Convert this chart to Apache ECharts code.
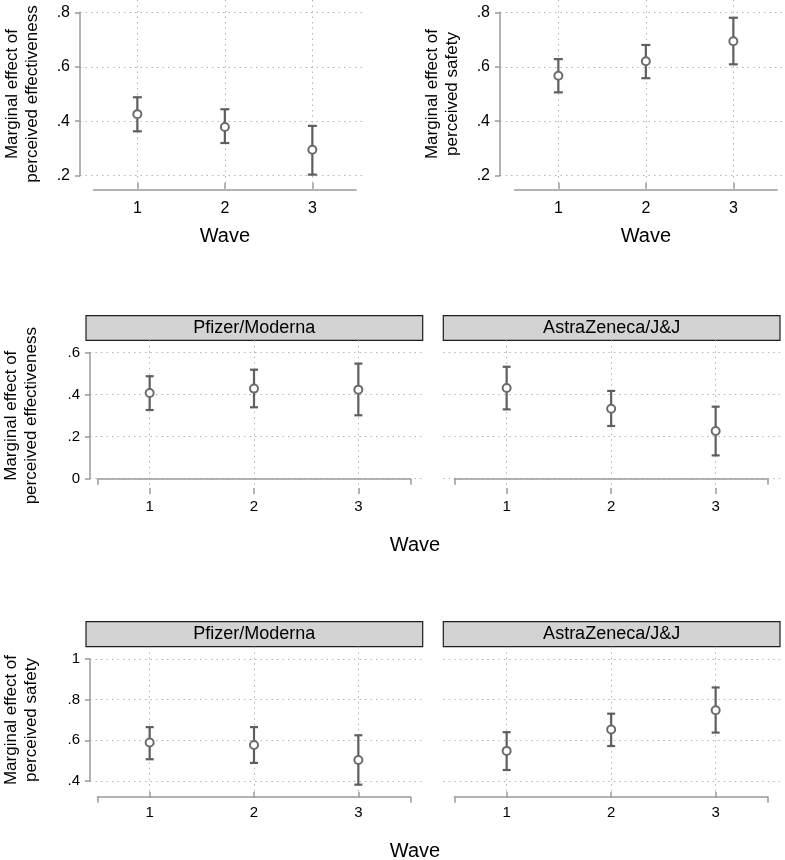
<!DOCTYPE html>
<html><head><meta charset="utf-8">
<script src="https://cdn.jsdelivr.net/npm/echarts@6/dist/echarts.min.js"></script>
<style>html,body{margin:0;padding:0;background:#fff}#c{width:785px;height:860px}</style>
</head><body><div id="c"></div>
<script>
// ---------- data ----------
const waves = [1, 2, 3];
// Top row: overall marginal effects
const effEst = [0.426, 0.379, 0.295];
const effLo  = [0.363, 0.320, 0.204];
const effHi  = [0.488, 0.444, 0.383];
const safEst = [0.567, 0.620, 0.694];
const safLo  = [0.506, 0.558, 0.609];
const safHi  = [0.628, 0.680, 0.780];
// Middle row: effectiveness by vaccine
const effPfEst = [0.408, 0.429, 0.424];
const effPfLo  = [0.327, 0.340, 0.302];
const effPfHi  = [0.488, 0.519, 0.548];
const effAzEst = [0.432, 0.333, 0.227];
const effAzLo  = [0.330, 0.251, 0.111];
const effAzHi  = [0.533, 0.418, 0.343];
// Bottom row: safety by vaccine
const safPfEst = [0.589, 0.577, 0.503];
const safPfLo  = [0.507, 0.489, 0.382];
const safPfHi  = [0.665, 0.665, 0.625];
const safAzEst = [0.548, 0.653, 0.748];
const safAzLo  = [0.454, 0.572, 0.638];
const safAzHi  = [0.640, 0.731, 0.860];
// tick labels
const ticksTop = [0.2, 0.4, 0.6, 0.8];
const ticksMid = [0, 0.2, 0.4, 0.6];
const ticksBot = [0.4, 0.6, 0.8, 1];
const vaccines = ['Pfizer/Moderna', 'AstraZeneca/J&J'];
const xTitle = 'Wave';
const yTitleEff = 'Marginal effect of\nperceived effectiveness';
const yTitleSaf = 'Marginal effect of\nperceived safety';

// ---------- style / layout ----------
const FF = '"Liberation Sans", Arial, Helvetica, sans-serif';
const AX = '#9a9a9a';
const GRID = '#b4b4b4';
const BAR = '#5e5e5e';
const MK = '#6c6c6c';
const DOT = [1.5, 4];

const panels = [
  {est: effEst, lo: effLo, hi: effHi, ticks: ticksTop, yTitle: yTitleEff, showY: true,
   plotL: 80, plotR: 365, plotT: 0, plotB: 182.7, yT: 12.3, yB: 175.7, xL: 93.6, xR: 356.1, axisY: 189.3,
   fs: 16, titleFs: 17, nameGap: 38, wave: true, endTicks: false, cap: 9, lm: 11},
  {est: safEst, lo: safLo, hi: safHi, ticks: ticksTop, yTitle: yTitleSaf, showY: true,
   plotL: 500, plotR: 790, plotT: 0, plotB: 182.7, yT: 12.3, yB: 175.7, xL: 514.6, xR: 777.1, axisY: 189.3,
   fs: 16, titleFs: 17, nameGap: 38, wave: true, endTicks: false, cap: 9, lm: 11},
  {est: effPfEst, lo: effPfLo, hi: effPfHi, ticks: ticksMid, yTitle: yTitleEff, showY: true, strip: vaccines[0],
   plotL: 86, plotR: 422.7, plotT: 340.3, plotB: 488, yT: 352.7, yB: 478.7, xL: 97.5, xR: 410.5, axisY: 490.7,
   fs: 15, titleFs: 17, nameGap: 49, wave: false, endTicks: true, cap: 8, lm: 9, stripT: 315.7},
  {est: effAzEst, lo: effAzLo, hi: effAzHi, ticks: ticksMid, yTitle: '', showY: false, strip: vaccines[1],
   plotL: 443.3, plotR: 780, plotT: 340.3, plotB: 488, yT: 352.7, yB: 478.7, xL: 454.4, xR: 767.9, axisY: 490.7,
   fs: 15, titleFs: 17, nameGap: 49, wave: false, endTicks: true, cap: 8, lm: 9, stripT: 315.7},
  {est: safPfEst, lo: safPfLo, hi: safPfHi, ticks: ticksBot, yTitle: yTitleSaf, showY: true, strip: vaccines[0],
   plotL: 86, plotR: 422.7, plotT: 646.7, plotB: 791.7, yT: 659, yB: 781, xL: 97.5, xR: 410.5, axisY: 796.7,
   fs: 15, titleFs: 17, nameGap: 49, wave: false, endTicks: true, cap: 8, lm: 9, stripT: 621.7},
  {est: safAzEst, lo: safAzLo, hi: safAzHi, ticks: ticksBot, yTitle: '', showY: false, strip: vaccines[1],
   plotL: 443.3, plotR: 780, plotT: 646.7, plotB: 791.7, yT: 659, yB: 781, xL: 454.4, xR: 767.9, axisY: 796.7,
   fs: 15, titleFs: 17, nameGap: 49, wave: false, endTicks: true, cap: 8, lm: 9, stripT: 621.7}
];
const sharedWave = [{x: 415, y: 545.7}, {x: 415, y: 851}];

function fmt(v) {
  const s = (+Number(v).toFixed(4)).toString();
  return s.replace(/^0\./, '.').replace(/^-0\./, '-.');
}

const grid = [], xAxis = [], yAxis = [], series = [], graphic = [];
const lineSt = {color: AX, width: 1.5};
const wMin = waves[0], wMax = waves[waves.length - 1];
const xMin = wMin - 0.5, xMax = wMax + 0.5;

panels.forEach(p => {
  const tMin = p.ticks[0], tMax = p.ticks[p.ticks.length - 1];
  const tInt = +(p.ticks[1] - p.ticks[0]).toFixed(6);
  const unit = (p.xR - p.xL) / (xMax - xMin);
  // grid Y: y axis + horizontal grid lines
  const gY = grid.length;
  grid.push({left: p.plotL, top: p.yT, width: p.plotR - p.plotL, height: p.yB - p.yT});
  xAxis.push({gridIndex: gY, type: 'value', min: 0, max: 1, show: false});
  yAxis.push({gridIndex: gY, type: 'value', min: tMin, max: tMax, interval: tInt,
    axisLine: {show: p.showY, lineStyle: lineSt},
    axisTick: {show: p.showY, length: 5, lineStyle: lineSt},
    axisLabel: {show: p.showY, formatter: fmt, fontSize: p.fs, color: '#000', margin: 10, fontFamily: FF},
    splitLine: {show: true, lineStyle: {color: GRID, type: DOT, width: 1}},
    name: p.yTitle, nameLocation: 'middle', nameRotate: 90, nameGap: p.nameGap,
    nameTextStyle: {fontSize: p.titleFs, lineHeight: 20, color: '#000', fontFamily: FF}});
  // grid T: wave ticks, labels and vertical grid lines (spans first..last wave)
  const gT = grid.length;
  grid.push({left: p.xL + unit * (wMin - xMin), top: p.plotT, width: unit * (wMax - wMin), height: p.plotB - p.plotT});
  xAxis.push({gridIndex: gT, type: 'value', position: 'bottom', min: wMin, max: wMax, interval: 1,
    offset: p.axisY - p.plotB,
    axisLine: {show: false},
    axisTick: {show: true, length: 6, lineStyle: lineSt},
    axisLabel: {fontSize: p.fs, color: '#000', margin: p.lm, fontFamily: FF},
    splitLine: {show: true, lineStyle: {color: GRID, type: DOT, width: 1}},
    name: p.wave ? xTitle : '', nameLocation: 'middle', nameGap: 37,
    nameTextStyle: {fontSize: 20, lineHeight: 20, color: '#000', fontFamily: FF}});
  yAxis.push({gridIndex: gT, type: 'value', min: 0, max: 1, show: false});
  // grid D: data + x axis line (+ end caps)
  const gD = grid.length;
  grid.push({left: p.xL, top: p.yT, width: p.xR - p.xL, height: p.yB - p.yT});
  const xD = xAxis.length;
  xAxis.push({gridIndex: gD, type: 'value', position: 'bottom', min: xMin, max: xMax, interval: xMax - xMin,
    offset: p.axisY - p.yB,
    axisLine: {show: true, lineStyle: lineSt},
    axisTick: {show: p.endTicks, length: 6, lineStyle: lineSt},
    axisLabel: {show: false}, splitLine: {show: false}});
  const yD = yAxis.length;
  yAxis.push({gridIndex: gD, type: 'value', min: tMin, max: tMax, show: false});

  const cap = p.cap;
  series.push({type: 'custom', xAxisIndex: xD, yAxisIndex: yD, silent: true, z: 3,
    data: waves.map((w, i) => [w, p.lo[i], p.hi[i]]),
    encode: {x: 0, y: [1, 2]},
    renderItem: (params, api) => {
      const x = api.value(0);
      const a = api.coord([x, api.value(1)]);
      const b = api.coord([x, api.value(2)]);
      const st = {stroke: BAR, lineWidth: 2.2, fill: null};
      const h = cap / 2;
      return {type: 'group', children: [
        {type: 'line', shape: {x1: a[0], y1: a[1], x2: b[0], y2: b[1]}, style: st},
        {type: 'line', shape: {x1: a[0] - h, y1: a[1], x2: a[0] + h, y2: a[1]}, style: st},
        {type: 'line', shape: {x1: b[0] - h, y1: b[1], x2: b[0] + h, y2: b[1]}, style: st}
      ]};
    }});
  series.push({type: 'scatter', xAxisIndex: xD, yAxisIndex: yD, silent: true, z: 4,
    data: waves.map((w, i) => [w, p.est[i]]),
    symbol: 'circle', symbolSize: 8,
    itemStyle: {color: '#ffffff', borderColor: MK, borderWidth: 2, opacity: 1}});

  if (p.strip) {
    graphic.push({type: 'rect', shape: {x: p.plotL, y: p.stripT, width: p.plotR - p.plotL, height: p.plotT - p.stripT},
      style: {fill: '#d3d3d3', stroke: '#1e1e1e', lineWidth: 1.2}, silent: true});
    graphic.push({type: 'text', x: (p.plotL + p.plotR) / 2, y: (p.stripT + p.plotT) / 2,
      style: {text: p.strip, font: '18px ' + FF, fill: '#000', align: 'center', verticalAlign: 'middle',
              textAlign: 'center', textVerticalAlign: 'middle'}, silent: true});
  }
});
sharedWave.forEach(w => {
  graphic.push({type: 'text', x: w.x, y: w.y,
    style: {text: xTitle, font: '20px ' + FF, fill: '#000', align: 'center', verticalAlign: 'middle',
            textAlign: 'center', textVerticalAlign: 'middle'}, silent: true});
});

const chart = echarts.init(document.getElementById('c'), null, {renderer: 'canvas'});
chart.setOption({animation: false, backgroundColor: '#fff', grid, xAxis, yAxis, series, graphic});
</script></body></html>
